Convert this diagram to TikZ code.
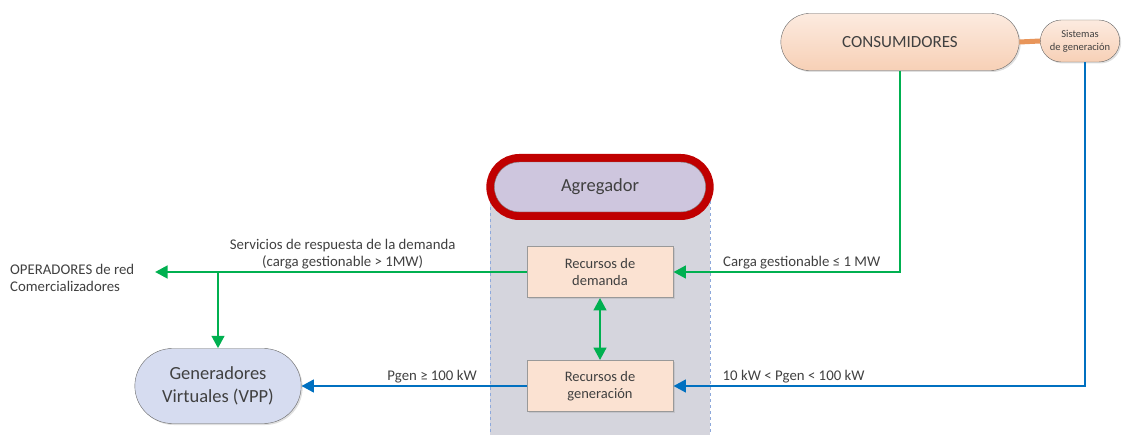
\documentclass[tikz,border=0pt]{standalone}
\usepackage{fontspec}
\setmainfont{Carlito}
\usetikzlibrary{arrows.meta, shapes.misc, shadows}

\definecolor{verde}{HTML}{00B050}
\definecolor{azul}{HTML}{0070C0}
\definecolor{rojo}{HTML}{C00000}
\definecolor{naranja}{HTML}{E8955A}
\definecolor{melocoton}{HTML}{FBE2D2}
\definecolor{melocotonosc}{HTML}{F7D0B6}
\definecolor{lavanda}{HTML}{CEC6DE}
\definecolor{azulclaro}{HTML}{D6DCF0}
\definecolor{carril}{HTML}{D5D5DD}
\definecolor{bordecarril}{HTML}{8EA9DB}
\definecolor{texto}{HTML}{404040}

\begin{document}
\begin{tikzpicture}[x=1pt, y=-1pt,
  pill/.style={rounded rectangle, draw=gray!80!black, thin, align=center, text=texto,
    drop shadow={opacity=0.25, shadow xshift=1.5pt, shadow yshift=-1.5pt}},
  recurso/.style={rectangle, draw=gray!80, thick, fill=melocoton, align=center, text=texto,
    minimum width=146, minimum height=51, font=\fontsize{14.5}{17}\selectfont,
    drop shadow={opacity=0.2, shadow xshift=1.5pt, shadow yshift=-1.5pt}},
  flecha/.style={line width=2.8pt, -{Triangle[length=12.5pt, width=12.5pt]}},
  etiq/.style={font=\fontsize{14.8}{17}\selectfont, text=texto, align=center, inner sep=2pt}
]
\useasboundingbox (0,0) rectangle (1123,435);
% Carril del agregador
\fill[carril] (490,195) rectangle (710,435);
\draw[bordecarril, dashed, thin] (490,195) -- (490,435);
\draw[bordecarril, dashed, thin] (710,195) -- (710,435);
% Nodos
\node[pill, draw=rojo, line width=8pt, fill=lavanda, minimum width=226, minimum height=58,
  font=\fontsize{18.5}{22}\selectfont] (agr) at (600,187) {Agregador};
\node[rounded rectangle, draw=gray, thin, minimum width=218, minimum height=50] (agrin) at (agr) {};
\node[recurso] (dem) at (600,272) {Recursos de\\demanda};
\node[recurso] (gen) at (600,386) {Recursos de\\generación};
\node[pill, top color=melocoton!70, bottom color=melocotonosc, minimum width=245, minimum height=57,
  font=\fontsize{17}{20}\selectfont] (cons) at (900,42) {CONSUMIDORES};
\node[pill, top color=melocoton!70, bottom color=melocotonosc, minimum width=86, minimum height=42,
  font=\fontsize{10.5}{13}\selectfont] (sis) at (1080,41) {Sistemas\\de generación};
\node[pill, fill=azulclaro, minimum width=173, minimum height=75,
  font=\fontsize{18.5}{23}\selectfont] (vpp) at (218,386) {Generadores\\Virtuales (VPP)};
\node[etiq, align=left, anchor=west] (oper) at (8,278) {OPERADORES de red\\Comercializadores};
\coordinate (opp) at (155,272);
\coordinate (rama) at (218,272);
% Conectores
\draw[naranja, line width=5pt] (cons.east) -- (sis.west);
\draw[flecha, verde] (cons.south) |- node[etiq, above, pos=0.717] {Carga gestionable ≤ 1 MW} (dem.east);
\draw[flecha, azul] ([xshift=5pt]sis.south) |- node[etiq, above, pos=0.854] {10 kW < Pgen < 100 kW} (gen.east);
\draw[flecha, verde] (dem.west) -- node[etiq, above, pos=0.495] {Servicios de respuesta de la demanda\\(carga gestionable > 1MW)} (opp);
\draw[flecha, verde] (rama) -- (vpp.north);
\draw[verde, line width=2.8pt, {Triangle[length=12.5pt, width=12.5pt]}-{Triangle[length=12.5pt, width=12.5pt]}] (dem.south) -- (gen.north);
\draw[flecha, azul] (gen.west) -- node[etiq, above, pos=0.42] {Pgen ≥ 100 kW} (vpp.east);
\end{tikzpicture}
\end{document}
